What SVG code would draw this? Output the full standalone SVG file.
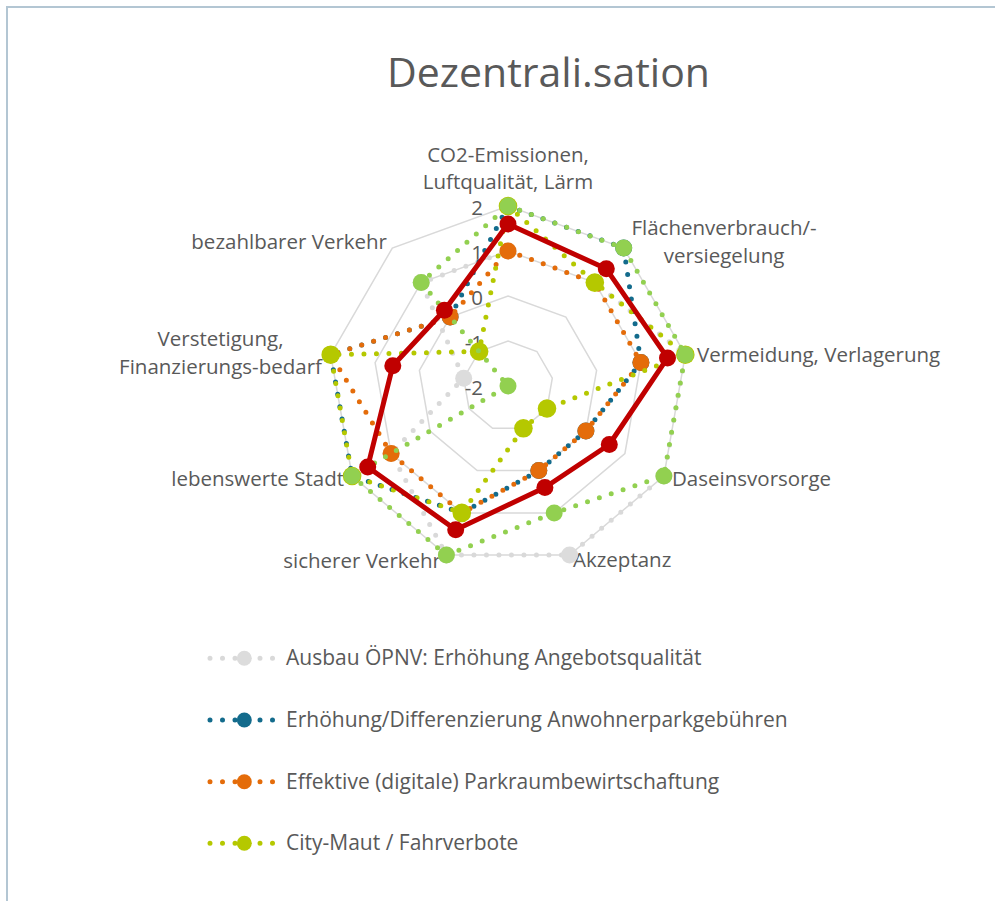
<svg xmlns="http://www.w3.org/2000/svg" width="995" height="901" viewBox="0 0 995 901">
<style>
text{font-family:"Open Sans","Liberation Sans",sans-serif;fill:#595959}
.lbl{font-size:20.5px}
.leg{font-size:21px}
.grid{fill:none;stroke:#d9d9d9;stroke-width:1.5}
.dot{fill:none;stroke-width:5;stroke-linecap:round;stroke-dasharray:0 12.5;stroke-linejoin:round}
.gray{stroke:#d9d9d9}.grayf{fill:#dcdcdc}
.blue{stroke:#136b8c}.bluef{fill:#136b8c}
.orng{stroke:#e46c0a}.orngf{fill:#e46c0a}
.ylw{stroke:#b5c800}.ylwf{fill:#b5c800}
.grn{stroke:#92d050}.grnf{fill:#92d050}
.red{fill:none;stroke:#c00000;stroke-width:5;stroke-linejoin:round}
.redf{fill:#c00000}
</style>
<rect width="995" height="901" fill="#ffffff"/>
<path d="M7,901V7H995" fill="none" stroke="#b3c6d3" stroke-width="2"/>
<text x="548.5" y="87" text-anchor="middle" font-size="41">Dezentrali.sation</text>

<g id="grid">
<polygon class="grid" points="508,206 623.7,248.1 685.3,354.7 663.9,476 569.6,555.1 446.4,555.1 352.1,476 330.7,354.7 392.3,248.1"/>
<polygon class="grid" points="508,251 594.8,282.6 640.9,362.6 624.9,453.5 554.2,512.9 461.8,512.9 391.1,453.5 375.1,362.6 421.2,282.6"/>
<polygon class="grid" points="508,296 565.9,317.1 596.6,370.4 585.9,431 538.8,470.6 477.2,470.6 430.1,431 419.4,370.4 450.1,317.1"/>
<polygon class="grid" points="508,341 536.9,351.5 552.3,378.2 547,408.5 523.4,428.3 492.6,428.3 469,408.5 463.7,378.2 479.1,351.5"/>
</g>

<g id="tick-labels" class="lbl" text-anchor="end">
<text class="lbl" x="483" y="215">2</text>
<text class="lbl" x="483" y="260">1</text>
<text class="lbl" x="483" y="305">0</text>
<text class="lbl" x="483" y="350">-1</text>
<text class="lbl" x="483" y="395">-2</text>
</g>

<g id="axis-labels">
<text class="lbl" x="508" y="162" text-anchor="middle">CO2-Emissionen,</text>
<text class="lbl" x="508" y="189" text-anchor="middle">Luftqualität, Lärm</text>
<text class="lbl" x="724" y="235" text-anchor="middle">Flächenverbrauch/-</text>
<text class="lbl" x="724" y="263" text-anchor="middle">versiegelung</text>
<text class="lbl" x="697" y="362">Vermeidung, Verlagerung</text>
<text class="lbl" x="672" y="486">Daseinsvorsorge</text>
<text class="lbl" x="573" y="567">Akzeptanz</text>
<text class="lbl" x="441" y="568" text-anchor="end">sicherer Verkehr</text>
<text class="lbl" x="344" y="486" text-anchor="end">lebenswerte Stadt</text>
<text class="lbl" x="220.5" y="346" text-anchor="middle">Verstetigung,</text>
<text class="lbl" x="220.5" y="374" text-anchor="middle">Finanzierungs-bedarf</text>
<text class="lbl" x="387" y="249" text-anchor="end">bezahlbarer Verkehr</text>
</g>

<g id="connectors">
<g id="series-ausbau-oepnv">
<polygon class="dot gray" points="508,251 594.8,282.6 685.3,354.7 663.9,476 569.6,555.1 446.4,555.1 391.1,453.5 463.7,378.2 421.2,282.6"/>
<g class="grayf">
<circle cx="508" cy="251" r="8.5"/><circle cx="594.8" cy="282.6" r="8.5"/><circle cx="685.3" cy="354.7" r="8.5"/><circle cx="663.9" cy="476" r="8.5"/><circle cx="569.6" cy="555.1" r="8.5"/><circle cx="446.4" cy="555.1" r="8.5"/><circle cx="391.1" cy="453.5" r="8.5"/><circle cx="463.7" cy="378.2" r="8.5"/><circle cx="421.2" cy="282.6" r="8.5"/>
</g>
</g>
<g id="series-anwohnerparkgebuehren">
<polyline class="dot blue" points="450.1,317.1 508,206 623.7,248.1 640.9,362.6 585.9,431 538.8,470.6 461.8,512.9 352.1,476 330.7,354.7"/>
<path class="dot blue" d="M330.7,354.7L450.1,317.1" stroke-dashoffset="5"/>
<g class="bluef">
<circle cx="508" cy="206" r="8.5"/><circle cx="623.7" cy="248.1" r="8.5"/><circle cx="640.9" cy="362.6" r="8.5"/><circle cx="585.9" cy="431" r="8.5"/><circle cx="538.8" cy="470.6" r="8.5"/><circle cx="461.8" cy="512.9" r="8.5"/><circle cx="352.1" cy="476" r="8.5"/><circle cx="330.7" cy="354.7" r="8.5"/><circle cx="450.1" cy="317.1" r="8.5"/>
</g>
</g>
<g id="series-parkraumbewirtschaftung">
<polygon class="dot orng" points="508,251 594.8,282.6 640.9,362.6 585.9,431 538.8,470.6 461.8,512.9 391.1,453.5 330.7,354.7 450.1,317.1"/>
<g class="orngf">
<circle cx="508" cy="251" r="8.5"/><circle cx="594.8" cy="282.6" r="8.5"/><circle cx="640.9" cy="362.6" r="8.5"/><circle cx="585.9" cy="431" r="8.5"/><circle cx="538.8" cy="470.6" r="8.5"/><circle cx="461.8" cy="512.9" r="8.5"/><circle cx="391.1" cy="453.5" r="8.5"/><circle cx="330.7" cy="354.7" r="8.5"/><circle cx="450.1" cy="317.1" r="8.5"/>
</g>
</g>
<g id="series-city-maut">
<polygon class="dot ylw" points="508,206 594.8,282.6 685.3,354.7 547,408.5 523.4,428.3 461.8,512.9 352.1,476 330.7,354.7 479.1,351.5"/>
<g class="ylwf">
<circle cx="508" cy="206" r="9.3"/><circle cx="594.8" cy="282.6" r="9.3"/><circle cx="685.3" cy="354.7" r="9.3"/><circle cx="547" cy="408.5" r="9.3"/><circle cx="523.4" cy="428.3" r="9.3"/><circle cx="461.8" cy="512.9" r="9.3"/><circle cx="352.1" cy="476" r="9.3"/><circle cx="330.7" cy="354.7" r="9.3"/><circle cx="479.1" cy="351.5" r="9.3"/>
</g>
</g>
<g id="series-green">
<polygon class="dot grn" points="508,206 623.7,248.1 685.3,354.7 663.9,476 554.2,512.9 446.4,555.1 352.1,476 508,386 421.2,282.6"/>
<g class="grnf">
<circle cx="508" cy="206" r="8.5"/><circle cx="623.7" cy="248.1" r="8.5"/><circle cx="685.3" cy="354.7" r="8.5"/><circle cx="663.9" cy="476" r="8.5"/><circle cx="554.2" cy="512.9" r="8.5"/><circle cx="446.4" cy="555.1" r="8.5"/><circle cx="352.1" cy="476" r="8.5"/><circle cx="508" cy="386" r="8.5"/><circle cx="421.2" cy="282.6" r="8.5"/>
</g>
</g>
<g id="series-red">
<polygon class="red" points="508,224 606.3,268.8 667.5,357.9 609.3,444.5 544.9,487.5 455.7,529.8 367.7,467 392.8,365.7 444.4,310.2"/>
<g class="redf">
<circle cx="508" cy="224" r="8.5"/><circle cx="606.3" cy="268.8" r="8.5"/><circle cx="667.5" cy="357.9" r="8.5"/><circle cx="609.3" cy="444.5" r="8.5"/><circle cx="544.9" cy="487.5" r="8.5"/><circle cx="455.7" cy="529.8" r="8.5"/><circle cx="367.7" cy="467" r="8.5"/><circle cx="392.8" cy="365.7" r="8.5"/><circle cx="444.4" cy="310.2" r="8.5"/>
</g>
</g>
</g>

<g id="legend">
<g id="legend-ausbau">
<path class="dot gray" d="M210,658.3H273"/>
<circle class="grayf" cx="244.3" cy="658.3" r="7.5"/>
<text class="leg" x="286" y="665">Ausbau ÖPNV: Erhöhung Angebotsqualität</text>
</g>
<g id="legend-anwohner">
<path class="dot blue" d="M210,720H273"/>
<circle class="bluef" cx="244.3" cy="720" r="7.5"/>
<text class="leg" x="286" y="727">Erhöhung/Differenzierung Anwohnerparkgebühren</text>
</g>
<g id="legend-parkraum">
<path class="dot orng" d="M210,781.7H273"/>
<circle class="orngf" cx="244.3" cy="781.7" r="7.5"/>
<text class="leg" x="286" y="788.5">Effektive (digitale) Parkraumbewirtschaftung</text>
</g>
<g id="legend-citymaut">
<path class="dot ylw" d="M210,843.3H273"/>
<circle class="ylwf" cx="244.3" cy="843.3" r="7.5"/>
<text class="leg" x="286" y="850">City-Maut / Fahrverbote</text>
</g>
</g>
</svg>
